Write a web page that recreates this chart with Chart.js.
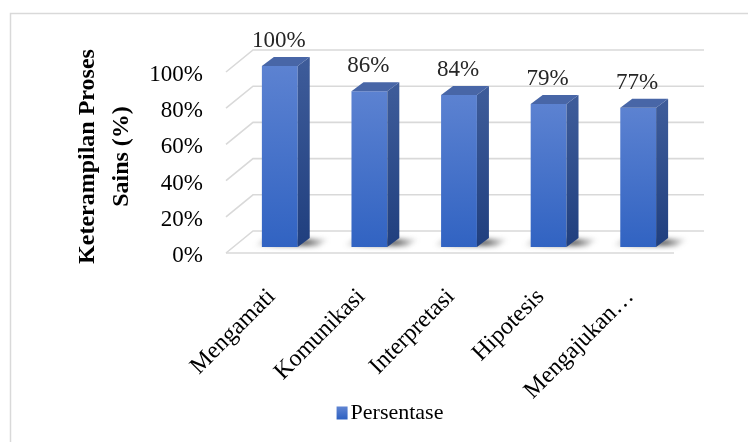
<!DOCTYPE html>
<html>
<head>
<meta charset="utf-8">
<script src="https://cdn.jsdelivr.net/npm/chart.js@4/dist/chart.umd.min.js"></script>
<style>
  html, body { margin: 0; padding: 0; background: #fff; }
  #chart { display: block; }
</style>
</head>
<body>
<canvas id="chart" width="748" height="442"></canvas>
<script>
const categories = ['Mengamati', 'Komunikasi', 'Interpretasi', 'Hipotesis', 'Mengajukan…'];
const persentase = [100, 86, 84, 79, 77];
const yTicks = [0, 20, 40, 60, 80, 100];
const seriesName = 'Persentase';
const axisTitle = ['Keterampilan Proses', 'Sains (%)'];

const serif = "'Liberation Serif', 'Times New Roman', serif";
const gridColor = '#d9d9d9';
// 3D offsets relative to the plane the bars stand in
const wallBack = { x: 18, y: -16 };
const floorFront = { x: -9, y: 6 };
const barDepth = { x: 12, y: -9 };

function frontGradient(ctx, top, bottom) {
  const g = ctx.createLinearGradient(0, top, 0, bottom);
  g.addColorStop(0, '#5c82d1');
  g.addColorStop(1, '#3163c2');
  return g;
}

const bar3d = {
  id: 'bar3d',
  beforeDatasetsDraw(chart) {
    const { ctx, chartArea: a, scales } = chart;
    const ys = scales.y;
    ctx.save();
    // outer frame
    ctx.strokeStyle = gridColor;
    ctx.lineWidth = 1.5;
    ctx.strokeRect(10.5, 13.5, 780, 480);

    // back wall grid + left wall slants
    ctx.lineWidth = 1.6;
    yTicks.forEach(v => {
      const y = ys.getPixelForValue(v);
      ctx.beginPath();
      ctx.moveTo(a.left + floorFront.x, y + floorFront.y);
      ctx.lineTo(a.left + wallBack.x, y + wallBack.y);
      ctx.lineTo(a.right + 21, y + wallBack.y);
      ctx.stroke();
    });
    // floor front edge
    const y0 = ys.getPixelForValue(0);
    ctx.beginPath();
    ctx.moveTo(a.left + floorFront.x, y0 + floorFront.y);
    ctx.lineTo(a.right + floorFront.x, y0 + floorFront.y);
    ctx.stroke();

    // soft floor shadows
    const meta = chart.getDatasetMeta(0);
    ctx.filter = 'blur(2.5px)';
    meta.data.forEach(bar => {
      const r = bar.x + bar.width / 2;
      const l = bar.x - bar.width / 2;
      const b = bar.base;
      const g = ctx.createLinearGradient(l - 8, 0, r + 32, 0);
      g.addColorStop(0, 'rgba(60,60,60,0.0)');
      g.addColorStop(0.3, 'rgba(50,50,50,0.55)');
      g.addColorStop(0.7, 'rgba(40,40,40,0.7)');
      g.addColorStop(1, 'rgba(80,80,80,0.0)');
      ctx.fillStyle = g;
      ctx.beginPath();
      ctx.moveTo(l - 8, b - 1);
      ctx.lineTo(l + 2, b - 8);
      ctx.lineTo(r + 32, b - 8);
      ctx.lineTo(r + 20, b - 1);
      ctx.closePath();
      ctx.fill();
    });
    ctx.restore();
  },
  afterDatasetsDraw(chart) {
    const { ctx } = chart;
    const meta = chart.getDatasetMeta(0);
    ctx.save();
    meta.data.forEach((bar, i) => {
      const l = bar.x - bar.width / 2;
      const r = bar.x + bar.width / 2;
      const t = bar.y;
      const b = bar.base;
      // side face
      const sg = ctx.createLinearGradient(0, t, 0, b);
      sg.addColorStop(0, '#3d5b99');
      sg.addColorStop(1, '#203f7e');
      ctx.fillStyle = sg;
      ctx.beginPath();
      ctx.moveTo(r, t);
      ctx.lineTo(r + barDepth.x, t + barDepth.y);
      ctx.lineTo(r + barDepth.x, b + barDepth.y);
      ctx.lineTo(r, b);
      ctx.closePath();
      ctx.fill();
      // top face
      ctx.fillStyle = '#4866a7';
      ctx.beginPath();
      ctx.moveTo(l, t);
      ctx.lineTo(l + barDepth.x, t + barDepth.y);
      ctx.lineTo(r + barDepth.x, t + barDepth.y);
      ctx.lineTo(r, t);
      ctx.closePath();
      ctx.fill();
      // value label
      ctx.fillStyle = '#262626';
      ctx.font = '23px ' + serif;
      ctx.textAlign = 'center';
      ctx.textBaseline = 'middle';
      ctx.fillText(persentase[i] + '%', bar.x - 1, t - 25);
    });
    ctx.restore();
  },
  afterDraw(chart) {
    // legend
    const { ctx } = chart;
    ctx.save();
    ctx.font = '22px ' + serif;
    const tw = ctx.measureText(seriesName).width;
    const box = 11, gap = 3;
    const cx = 390, cy = 413;
    const x0 = cx - (box + gap + tw) / 2;
    ctx.fillStyle = frontGradient(ctx, cy - box / 2, cy + box / 2);
    ctx.fillRect(x0, cy - box / 2 - 1, box, box + 2);
    ctx.fillStyle = '#000';
    ctx.textAlign = 'left';
    ctx.textBaseline = 'middle';
    ctx.fillText(seriesName, x0 + box + gap, cy);
    ctx.restore();
  }
};

new Chart(document.getElementById('chart'), {
  type: 'bar',
  data: {
    labels: categories,
    datasets: [{
      label: seriesName,
      data: persentase,
      borderWidth: 0,
      barPercentage: 0.5,
      categoryPercentage: 0.8,
      backgroundColor: (c) => {
        const chart = c.chart;
        if (!chart.chartArea || c.raw === undefined) return '#4472c4';
        const ys = chart.scales.y;
        return frontGradient(chart.ctx, ys.getPixelForValue(c.raw), ys.getPixelForValue(0));
      }
    }]
  },
  options: {
    responsive: false,
    animation: false,
    events: [],
    layout: { padding: { left: 0, top: 66, right: 65, bottom: 0 } },
    plugins: {
      legend: { display: false },
      tooltip: { enabled: false }
    },
    scales: {
      x: {
        grid: { display: false, drawTicks: false },
        border: { display: false },
        ticks: {
          autoSkip: false,
          minRotation: 45,
          maxRotation: 45,
          padding: 36,
          labelOffset: -8,
          color: '#000',
          font: { family: serif, size: 24 }
        },
        afterFit: s => { s.height = 195; }
      },
      y: {
        min: 0,
        max: 100,
        grid: { display: false, drawTicks: false },
        border: { display: false },
        afterBuildTicks: s => { s.ticks = yTicks.map(v => ({ value: v })); },
        ticks: {
          padding: 32,
          labelOffset: 9,
          color: '#000',
          font: { family: serif, size: 23 },
          callback: v => v + '%'
        },
        title: {
          display: true,
          text: axisTitle,
          color: '#000',
          font: { family: serif, size: 24, weight: 'bold', lineHeight: 1.4 },
          padding: { top: 71, bottom: 0 }
        },
        afterFit: s => { s.width = 235; }
      }
    }
  },
  plugins: [bar3d]
});
</script>
</body>
</html>
